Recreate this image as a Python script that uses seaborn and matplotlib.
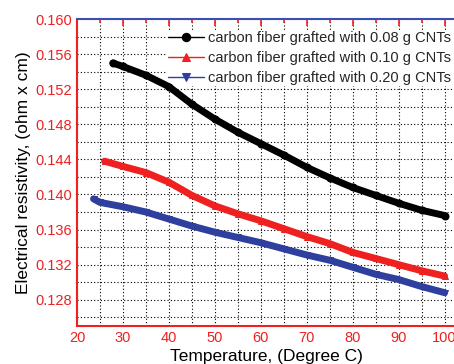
import matplotlib
matplotlib.use("Agg")
import matplotlib.pyplot as plt
import seaborn as sns
from matplotlib.ticker import MultipleLocator, FormatStrFormatter

# values
t_008 = [27.8, 30, 35, 40, 45, 50, 55, 60, 65, 70, 75, 80, 85, 90, 95, 100]
r_008 = [0.1550, 0.1546, 0.1536, 0.1523, 0.1503, 0.1486, 0.1471, 0.1458,
         0.1445, 0.1431, 0.1419, 0.1408, 0.1399, 0.1390, 0.1382, 0.1376]

t_010 = [26.0, 30, 35, 40, 45, 50, 55, 60, 65, 70, 75, 80, 85, 90, 95, 100]
r_010 = [0.1438, 0.1432, 0.1425, 0.1414, 0.1399, 0.1387, 0.1378, 0.1370,
         0.1361, 0.1352, 0.1344, 0.1334, 0.1327, 0.1320, 0.1313, 0.1307]

t_020 = [23.6, 25, 30, 35, 40, 45, 50, 55, 60, 65, 70, 75, 80, 85, 90, 95, 100]
r_020 = [0.1395, 0.1391, 0.1386, 0.1380, 0.1372, 0.1364, 0.1357, 0.1351, 0.1345,
         0.1338, 0.1331, 0.1325, 0.1317, 0.1309, 0.1303, 0.1295, 0.1288]

labels = ["carbon fiber grafted with 0.08 g CNTs",
          "carbon fiber grafted with 0.10 g CNTs",
          "carbon fiber grafted with 0.20 g CNTs"]

sns.set_style("white")
plt.rcParams['font.family'] = ['Liberation Sans', 'DejaVu Sans']

fig = plt.figure(figsize=(4.54, 3.64), dpi=100)
ax = fig.add_axes([0.1696, 0.1044, 0.835, 0.843])

red = "#ee2020"
blue = "#3a4fb0"
series = [(t_008, r_008, "black", "o"), (t_010, r_010, red, "^"), (t_020, r_020, "#2e3f9e", "v")]
for (t, r, c, m), lab in zip(series, labels):
    sns.lineplot(x=t, y=r, ax=ax, color=c, marker=m, markersize=5,
                 markeredgecolor=c, linewidth=5, label=lab, zorder=3)

ax.set_xlim(20, 102.5)
ax.set_ylim(0.125, 0.160)
ax.xaxis.set_major_locator(MultipleLocator(10))
ax.xaxis.set_minor_locator(MultipleLocator(5))
ax.yaxis.set_major_locator(MultipleLocator(0.004))
ax.yaxis.set_minor_locator(MultipleLocator(0.002))
ax.yaxis.set_major_formatter(FormatStrFormatter("%.3f"))

ax.grid(True, which="both", color="black", linestyle=(0, (1, 2)), linewidth=0.8)

for side in ["left", "bottom"]:
    ax.spines[side].set_color(red)
    ax.spines[side].set_linewidth(1.5)
ax.spines["top"].set_color(blue)
ax.spines["top"].set_linewidth(1.5)
ax.spines["right"].set_visible(False)

ax.tick_params(axis="both", which="both", direction="in", colors=red,
               labelsize=10.5, top=True)
ax.tick_params(axis="both", which="major", length=5, width=1.2)
ax.tick_params(axis="both", which="minor", length=3, width=1.2)
# top ticks blue
for tk in ax.xaxis.get_major_ticks() + ax.xaxis.get_minor_ticks():
    tk.tick2line.set_color(blue)

ax.set_xlabel("Temperature, (Degree C)", fontsize=12.5, color="black", labelpad=3)
ax.set_ylabel("Electrical resistivity, (ohm x cm)", fontsize=12.5, color="black", labelpad=3)

leg = ax.legend(loc="upper left", bbox_to_anchor=(0.235, 0.965), frameon=True,
                fontsize=10.5, handlelength=2.5, handletextpad=0.3, labelspacing=0.4,
                borderaxespad=0, borderpad=0.1, fancybox=False)
leg.get_frame().set_facecolor("white")
leg.get_frame().set_edgecolor("none")
leg.get_frame().set_alpha(1)
leg.set_zorder(2)  # curves stay on top of the white legend box
for h in leg.legend_handles:
    h.set_linewidth(1.0)
    h.set_markersize(6)

fig.savefig("out.png", dpi=100)
